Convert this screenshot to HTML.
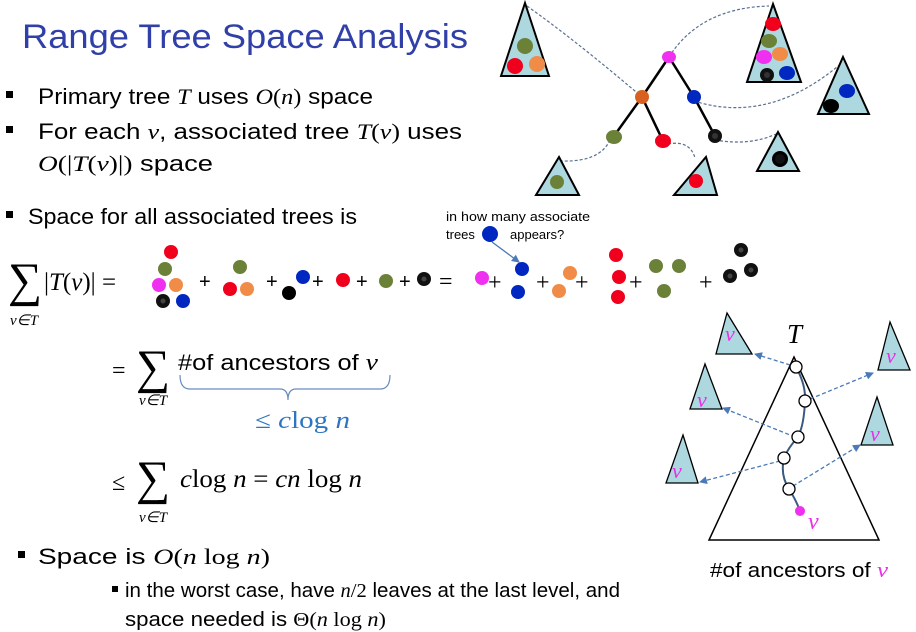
<!DOCTYPE html>
<html><head><meta charset="utf-8"><style>
html,body{margin:0;padding:0;background:#fff;width:916px;height:632px;overflow:hidden}
svg{display:block}
text{font-family:"Liberation Sans",sans-serif;fill:#000}
.m{font-family:"Liberation Serif",serif;font-style:italic}
.r{font-family:"Liberation Serif",serif}
.tri{fill:#add8e0;stroke:#000;stroke-width:2}
.dl{fill:none;stroke:#5a7090;stroke-width:1.2;stroke-dasharray:3,2}
.da{fill:none;stroke:#4a7ab8;stroke-width:1.3;stroke-dasharray:4,2.5}
.pv{fill:#e830e8;font-family:"Liberation Serif",serif;font-style:italic}
</style></head><body>
<svg width="916" height="632" viewBox="0 0 916 632" xmlns="http://www.w3.org/2000/svg">
<defs>
<marker id="ah" markerWidth="8" markerHeight="8" refX="7" refY="4" orient="auto" markerUnits="userSpaceOnUse"><path d="M0,0 L8,4 L0,8z" fill="#4a7ab8"/></marker>
</defs>
<text x="22" y="48" font-size="34" style="fill:#3040a8" textLength="446" lengthAdjust="spacingAndGlyphs">Range Tree Space Analysis</text>
<rect x="6" y="91" width="7" height="7"/>
<text x="38" y="104" font-size="22" textLength="335" lengthAdjust="spacingAndGlyphs">Primary tree <tspan class="m">T</tspan> uses <tspan class="m">O</tspan><tspan class="r">(</tspan><tspan class="m">n</tspan><tspan class="r">)</tspan> space</text>
<rect x="6" y="126" width="7" height="7"/>
<text x="38" y="139" font-size="22" textLength="424" lengthAdjust="spacingAndGlyphs">For each <tspan class="m">v</tspan>, associated tree <tspan class="m">T</tspan><tspan class="r">(</tspan><tspan class="m">v</tspan><tspan class="r">)</tspan> uses</text>
<text x="38" y="171" font-size="22" textLength="175" lengthAdjust="spacingAndGlyphs"><tspan class="m">O</tspan><tspan class="r">(|</tspan><tspan class="m">T</tspan><tspan class="r">(</tspan><tspan class="m">v</tspan><tspan class="r">)|)</tspan> space</text>
<rect x="6" y="211" width="7" height="7"/>
<text x="28" y="224" font-size="22" textLength="329" lengthAdjust="spacingAndGlyphs">Space for all associated trees is</text>
<text x="8" y="296" font-size="48" class="r">∑</text>
<text x="10" y="325" font-size="15" class="m">v∈T</text>
<text x="44" y="290" font-size="25" class="r">|<tspan class="m">T</tspan>(<tspan class="m">v</tspan>)| =</text>
<text x="112" y="378" font-size="24" class="r">=</text>
<text x="136" y="383" font-size="48" class="r">∑</text>
<text x="139" y="405" font-size="15" class="m">v∈T</text>
<text x="178" y="370" font-size="22" textLength="200" lengthAdjust="spacingAndGlyphs">#of ancestors of  <tspan class="m" font-size="24">v</tspan></text>
<path d="M180,375 Q180,389 190,389 L280,389 Q288,389 288,400 Q288,389 296,389 L380,389 Q390,389 390,375" fill="none" stroke="#6a8cc0" stroke-width="1.2"/>
<text x="255" y="428" font-size="24" class="r" style="fill:#2e75c0" textLength="95" lengthAdjust="spacingAndGlyphs">≤ <tspan class="m" style="fill:#2e75c0">c</tspan>log<tspan class="m" style="fill:#2e75c0"> n</tspan></text>
<text x="112" y="490" font-size="24" class="r">≤</text>
<text x="136" y="494" font-size="48" class="r">∑</text>
<text x="139" y="522" font-size="15" class="m">v∈T</text>
<text x="180" y="487" font-size="25" class="r" textLength="182" lengthAdjust="spacingAndGlyphs"><tspan class="m">c</tspan>log<tspan class="m"> n</tspan> = <tspan class="m">cn</tspan> log<tspan class="m"> n</tspan></text>
<rect x="18" y="551" width="7" height="7"/>
<text x="38" y="564" font-size="22" textLength="232" lengthAdjust="spacingAndGlyphs">Space is <tspan class="m">O</tspan><tspan class="r">(</tspan><tspan class="m">n</tspan><tspan class="r"> log </tspan><tspan class="m">n</tspan><tspan class="r">)</tspan></text>
<rect x="112" y="586" width="6" height="6"/>
<text x="125" y="597" font-size="20" textLength="495" lengthAdjust="spacingAndGlyphs">in the worst case, have <tspan class="m">n</tspan><tspan class="r">/2</tspan> leaves at the last level, and</text>
<text x="125" y="626" font-size="20" textLength="261" lengthAdjust="spacingAndGlyphs">space needed is <tspan class="r">Θ(</tspan><tspan class="m">n</tspan><tspan class="r"> log </tspan><tspan class="m">n</tspan><tspan class="r">)</tspan></text>

<g>
<circle cx="171" cy="252" r="7" fill="#f0001c"/><circle cx="165" cy="269" r="7" fill="#6b8138"/><circle cx="159" cy="285" r="7" fill="#f030f0"/><circle cx="176" cy="285" r="7" fill="#f08c48"/><circle cx="163" cy="301" r="7" fill="#111"/><circle cx="163" cy="301" r="2.5" fill="#444"/><circle cx="183" cy="301" r="7" fill="#0028c0"/>
<text x="199" y="288" font-size="20">+</text>
<circle cx="240" cy="267" r="7" fill="#6b8138"/><circle cx="230" cy="289" r="7" fill="#f0001c"/><circle cx="247" cy="289" r="7" fill="#f08c48"/>
<text x="266" y="288" font-size="20">+</text>
<circle cx="289" cy="293" r="7" fill="#000"/><circle cx="303" cy="277" r="7" fill="#0028c0"/>
<text x="312" y="288" font-size="20">+</text>
<circle cx="343" cy="280" r="7" fill="#f0001c"/>
<text x="356" y="288" font-size="20">+</text>
<circle cx="386" cy="281" r="7" fill="#6b8138"/>
<text x="399" y="288" font-size="20">+</text>
<circle cx="424" cy="279" r="7" fill="#111"/><circle cx="424" cy="279" r="2.5" fill="#444"/>
<text x="439" y="289" font-size="24" class="r">=</text>
<circle cx="482" cy="278" r="7" fill="#f030f0"/>
<text x="488" y="290" font-size="24" class="r">+</text>
<circle cx="522" cy="269" r="7" fill="#0028c0"/><circle cx="518" cy="292" r="7" fill="#0028c0"/>
<text x="536" y="290" font-size="24" class="r">+</text>
<circle cx="570" cy="273" r="7" fill="#f08c48"/><circle cx="559" cy="291" r="7" fill="#f08c48"/>
<text x="575" y="290" font-size="24" class="r">+</text>
<circle cx="616" cy="255" r="7" fill="#f0001c"/><circle cx="619" cy="277" r="7" fill="#f0001c"/><circle cx="618" cy="297" r="7" fill="#f0001c"/>
<text x="629" y="290" font-size="24" class="r">+</text>
<circle cx="656" cy="266" r="7" fill="#6b8138"/><circle cx="679" cy="266" r="7" fill="#6b8138"/><circle cx="664" cy="291" r="7" fill="#6b8138"/>
<text x="699" y="290" font-size="24" class="r">+</text>
<circle cx="730" cy="276" r="7" fill="#111"/><circle cx="730" cy="276" r="2.5" fill="#444"/><circle cx="741" cy="250" r="7" fill="#111"/><circle cx="741" cy="250" r="2.5" fill="#444"/><circle cx="751" cy="270" r="7" fill="#111"/><circle cx="751" cy="270" r="2.5" fill="#444"/>
</g>
<text x="446" y="221" font-size="13" textLength="144" lengthAdjust="spacingAndGlyphs">in how many associate</text>
<text x="446" y="239" font-size="13">trees</text>
<circle cx="490" cy="234" r="8" fill="#0028c0"/>
<text x="510" y="239" font-size="13">appears?</text>
<line x1="492" y1="242" x2="519" y2="262" stroke="#4a7ab8" stroke-width="1.3" marker-end="url(#ah)"/>

<path class="dl" d="M527,6 Q575,40 642,97"/>
<path class="dl" d="M669,57 Q700,8 769,6"/>
<path class="dl" d="M694,101 Q770,125 843,62"/>
<path class="dl" d="M715,140 Q750,146 776,134"/>
<path class="dl" d="M610,140 Q600,162 562,161"/>
<path class="dl" d="M668,144 Q690,140 695,158"/>
<g stroke="#000" stroke-width="2.5">
<line x1="669" y1="57" x2="642" y2="97"/><line x1="669" y1="57" x2="694" y2="97"/>
<line x1="642" y1="97" x2="614" y2="136"/><line x1="642" y1="97" x2="663" y2="141"/><line x1="694" y1="97" x2="715" y2="136"/>
</g>
<ellipse cx="669" cy="57" rx="7" ry="6" fill="#f030f0"/>
<ellipse cx="642" cy="97" rx="7" ry="7" fill="#d86020"/>
<ellipse cx="694" cy="97" rx="7" ry="7" fill="#0028c0"/>
<ellipse cx="614" cy="137" rx="8" ry="7" fill="#6b8138"/>
<ellipse cx="663" cy="141" rx="8" ry="7" fill="#f0001c"/>
<ellipse cx="715" cy="136" rx="7" ry="7" fill="#111"/><circle cx="715" cy="136" r="3" fill="#333"/>
<polygon class="tri" points="525,3 549,76 501,76"/>
<circle cx="525" cy="46" r="8" fill="#6b8138"/><circle cx="515" cy="66" r="8" fill="#f0001c"/><circle cx="537" cy="64" r="8" fill="#f08c48"/>
<polygon class="tri" points="773,4 801,82 747,82"/>
<ellipse cx="773" cy="24" rx="8" ry="7" fill="#f0001c"/><ellipse cx="769" cy="41" rx="8" ry="7" fill="#6b8138"/><ellipse cx="764" cy="57" rx="8" ry="7" fill="#f030f0"/><ellipse cx="780" cy="54" rx="8" ry="7" fill="#f08c48"/><ellipse cx="767" cy="75" rx="7" ry="7" fill="#111"/><circle cx="767" cy="75" r="3" fill="#333"/><ellipse cx="787" cy="73" rx="8" ry="7" fill="#0028c0"/>
<polygon class="tri" points="843,57 869,114 818,114"/>
<ellipse cx="847" cy="91" rx="8" ry="7" fill="#0028c0"/><ellipse cx="831" cy="106" rx="8" ry="7" fill="#000"/>
<polygon class="tri" points="778,132 799,171 757,171"/>
<circle cx="780" cy="159" r="8" fill="#000"/><circle cx="780" cy="159" r="5" fill="#111"/>
<polygon class="tri" points="559,157 579,195 536,195"/>
<circle cx="557" cy="182" r="7" fill="#6b8138"/>
<polygon class="tri" points="706,157 717,195 674,195"/>
<circle cx="696" cy="181" r="7" fill="#f0001c"/>

<text x="787" y="343" font-size="27" class="m">T</text>
<polygon points="794,357 879,540 709,540" fill="none" stroke="#000" stroke-width="1.5"/>
<g class="tri" style="stroke-width:1.3">
<polygon points="727,313 752,354 716,354"/>
<polygon points="705,364 722,409 690,409"/>
<polygon points="683,435 698,483 666,483"/>
<polygon points="890,322 910,370 878,370"/>
<polygon points="877,397 893,445 861,445"/>
</g>
<text x="725" y="341" font-size="22" class="pv">v</text>
<text x="697" y="407" font-size="22" class="pv">v</text>
<text x="672" y="478" font-size="22" class="pv">v</text>
<text x="886" y="363" font-size="22" class="pv">v</text>
<text x="870" y="441" font-size="22" class="pv">v</text>
<line class="da" x1="790" y1="365" x2="755" y2="354" marker-end="url(#ah)"/>
<line class="da" x1="810" y1="399" x2="873" y2="373" marker-end="url(#ah)"/>
<line class="da" x1="795" y1="437" x2="723" y2="408" marker-end="url(#ah)"/>
<line class="da" x1="780" y1="461" x2="700" y2="482" marker-end="url(#ah)"/>
<line class="da" x1="793" y1="486" x2="860" y2="445" marker-end="url(#ah)"/>
<path d="M796,367 Q806,385 805,401 Q804,425 798,437 Q788,448 784,458 Q780,475 789,489 Q796,500 800,511" fill="none" stroke="#3a5a80" stroke-width="2"/>
<g fill="#fff" stroke="#000" stroke-width="1.3">
<circle cx="796" cy="367" r="6"/><circle cx="805" cy="401" r="6"/><circle cx="798" cy="437" r="6"/><circle cx="784" cy="458" r="6"/><circle cx="789" cy="489" r="6"/>
</g>
<circle cx="800" cy="511" r="5" fill="#f030f0"/>
<text x="808" y="529" font-size="24" class="pv">v</text>
<text x="710" y="577" font-size="20" textLength="178" lengthAdjust="spacingAndGlyphs">#of ancestors of  <tspan class="pv" font-size="22">v</tspan></text>
</svg>
</body></html>
